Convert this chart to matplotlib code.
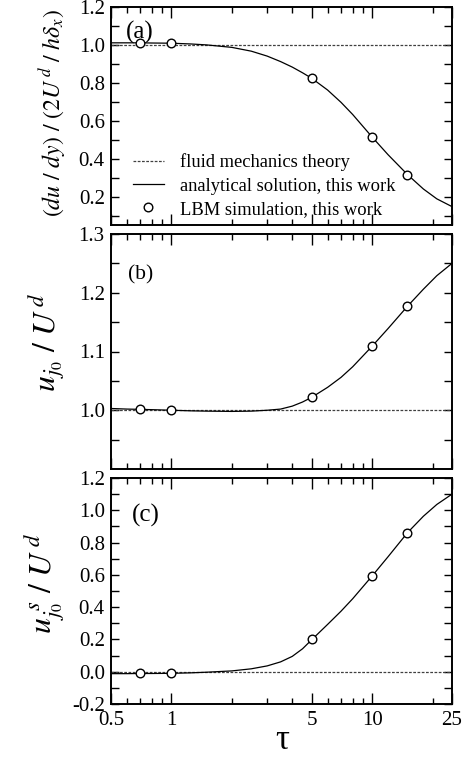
import matplotlib
matplotlib.use("Agg")
import matplotlib.pyplot as plt
from matplotlib.ticker import FixedLocator, NullFormatter, FixedFormatter

plt.rcParams['font.family'] = ['Liberation Serif', 'DejaVu Serif']
plt.rcParams['mathtext.fontset'] = 'stix'

# ---- data ----
tau_lbm = [0.7, 1, 5, 10, 15]
a_lbm = [1.012, 1.010, 0.824, 0.514, 0.316]
b_lbm = [1.002, 1.000, 1.022, 1.109, 1.177]
c_lbm = [-0.010, -0.010, 0.200, 0.593, 0.861]

tau_curve = [0.5, 0.6, 0.7, 0.8, 1.0, 1.25, 1.5, 2.0, 2.5, 3.0, 3.5, 4.0, 4.5,
             5.0, 6.0, 7.0, 8.0, 10.0, 12.0, 15.0, 18.0, 21.0, 25.0]
a_curve = [1.011, 1.011, 1.011, 1.010, 1.009, 1.005, 1.000, 0.987, 0.967, 0.941,
           0.912, 0.883, 0.853, 0.824, 0.762, 0.697, 0.633, 0.514, 0.421, 0.316,
           0.240, 0.188, 0.147]
b_curve = [1.003, 1.002, 1.0015, 1.001, 1.000, 0.999, 0.9985, 0.998, 0.9985, 1.000,
           1.002, 1.007, 1.014, 1.022, 1.039, 1.056, 1.074, 1.109, 1.139, 1.177,
           1.206, 1.229, 1.250]
c_curve = [-0.012, -0.012, -0.011, -0.011, -0.010, -0.007, -0.003, 0.005, 0.018,
           0.036, 0.061, 0.095, 0.142, 0.198, 0.293, 0.375, 0.452, 0.593, 0.712,
           0.861, 0.963, 1.036, 1.100]

theory_a = 1.0
theory_b = 1.0
theory_c = 0.0

xticks_major = [0.5, 1, 5, 10, 25]
xtick_labels = ['0.5', '1', '5', '10', '25']
xticks_minor = [0.6, 0.7, 0.8, 0.9, 2, 3, 4, 6, 7, 8, 9, 20]

fig = plt.figure(figsize=(4.70, 7.57), dpi=100)
W, H = 470.0, 757.0
def rect(l, t, r, b):
    return [l / W, 1 - b / H, (r - l) / W, (b - t) / H]

axa = fig.add_axes(rect(111, 7, 452, 225))
axb = fig.add_axes(rect(111, 234, 452, 469))
axc = fig.add_axes(rect(111, 478, 452, 704))

dash = (0, (2.2, 1.2))
for ax, yc, yl, th in [(axa, a_curve, a_lbm, theory_a),
                       (axb, b_curve, b_lbm, theory_b),
                       (axc, c_curve, c_lbm, theory_c)]:
    ax.set_xscale('log')
    ax.set_xlim(0.5, 25)
    ax.axhline(th, color='0.25', lw=0.9, linestyle=dash, label='fluid mechanics theory', zorder=2)
    ax.plot(tau_curve, yc, color='black', lw=0.9, label='analytical solution, this work', zorder=3)
    ax.plot(tau_lbm, yl, 'o', ms=6.2, mfc='white', mec='black', mew=1.0,
            label='LBM simulation, this work', zorder=4, linestyle='none')
    ax.xaxis.set_major_locator(FixedLocator(xticks_major))
    ax.xaxis.set_minor_locator(FixedLocator(xticks_minor))
    ax.xaxis.set_minor_formatter(NullFormatter())
    ax.tick_params(which='both', direction='in', top=True, right=True, labelsize=15, width=1.0)
    ax.tick_params(axis='x', which='major', length=8, pad=5)
    ax.tick_params(axis='x', which='minor', length=4.5)
    ax.tick_params(axis='y', which='major', length=5.5, pad=4.5)
    ax.tick_params(axis='y', which='minor', length=5.5)
    for s in ax.spines.values():
        s.set_linewidth(1.4)

for ax in (axa, axb):
    ax.xaxis.set_major_formatter(NullFormatter())
axc.xaxis.set_major_formatter(FixedFormatter(xtick_labels))

# y axes
axa.set_ylim(0.05, 1.2)
axa.yaxis.set_major_locator(FixedLocator([0.2, 0.4, 0.6, 0.8, 1.0, 1.2]))
axa.yaxis.set_major_formatter(FixedFormatter(['0.2', '0.4', '0.6', '0.8', '1.0', '1.2']))
axa.yaxis.set_minor_locator(FixedLocator([0.1, 0.3, 0.5, 0.7, 0.9, 1.1]))

axb.set_ylim(0.9, 1.3)
axb.yaxis.set_major_locator(FixedLocator([1.0, 1.1, 1.2, 1.3]))
axb.yaxis.set_major_formatter(FixedFormatter(['1.0', '1.1', '1.2', '1.3']))
axb.yaxis.set_minor_locator(FixedLocator([0.95, 1.05, 1.15, 1.25]))

axc.set_ylim(-0.2, 1.2)
ct = [-0.2, 0.0, 0.2, 0.4, 0.6, 0.8, 1.0, 1.2]
axc.yaxis.set_major_locator(FixedLocator(ct))
axc.yaxis.set_major_formatter(FixedFormatter(['-0.2', '0.0', '0.2', '0.4', '0.6', '0.8', '1.0', '1.2']))
axc.yaxis.set_minor_locator(FixedLocator([-0.1, 0.1, 0.3, 0.5, 0.7, 0.9, 1.1]))

# labels
axa.set_ylabel(r'$(du\ /\ dy)\ /\ (2U^{\,d}\ /\ h\delta_x)$', fontsize=17.2)
axb.set_ylabel(r'$u_{j_0}\ /\ U^{\,d}$', fontsize=23)
axc.set_ylabel(r'$u^{\ s}_{j_0}\ /\ U^{\,d}$', fontsize=23)
axa.yaxis.set_label_coords(-0.125, 0.515)
axb.yaxis.set_label_coords(-0.13, 0.54)
axc.yaxis.set_label_coords(-0.13, 0.535)
fig.text(282 / W, 0.0, 'τ', ha='center', va='bottom', fontsize=25)

axa.text(0.045, 0.885, '(a)', transform=axa.transAxes, fontsize=18, va='center', ha='left')
axb.text(0.05, 0.825, '(b)', transform=axb.transAxes, fontsize=15.5, va='center', ha='left')
axc.text(0.06, 0.836, '(c)', transform=axc.transAxes, fontsize=18, va='center', ha='left')

leg = axa.legend(loc='lower left', bbox_to_anchor=(0.043, 0.0), frameon=False, fontsize=13.3,
                 handlelength=1.65, handletextpad=0.9, labelspacing=0.33, borderaxespad=0.0)

fig.savefig('out.png', dpi=100)
